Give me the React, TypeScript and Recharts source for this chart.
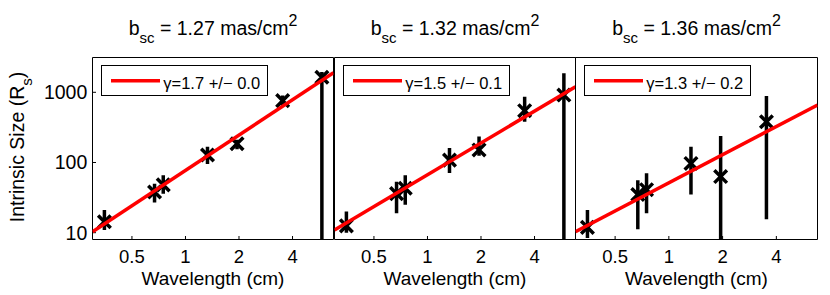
import React from 'react';
import { ComposedChart, Line, Scatter, XAxis, YAxis, Legend } from 'recharts';

const FONT = '"Liberation Sans", Arial, Helvetica, sans-serif';

const xTicks = [0.5, 1, 2, 4];
const yTicks = [10, 100, 1000];
const xDomain: [number, number] = [0.3, 6.8];
const yDomain: [number, number] = [8, 3130];

const wavelengths = [0.35, 0.67, 0.75, 1.33, 1.95, 3.52, 5.85];

const bscValues = ['1.27', '1.32', '1.36'];
const gammaLabels = ['γ=1.7 +/− 0.0', 'γ=1.5 +/− 0.1', 'γ=1.3 +/− 0.2'];

const size1 = [14.3, 38, 48, 128, 185, 760, 1640];
const low1 = [10.9, 27, 36, 95, 155, 640, 1];
const high1 = [21, 50, 66, 168, 210, 900, 1950];

const size2 = [12.5, 36, 43, 108, 151, 547, 913];
const low2 = [10, 19, 25, 71, 125, 381, 1];
const high2 = [20, 53, 66, 161, 235, 865, 1860];

const size3 = [11.9, 35, 41, 97, 63, 381];
const low3 = [8.4, 11.2, 19, 35, 1, 15.5];
const high3 = [21, 56, 70, 168, 238, 885];

const fitX = [0.3, 6.8];
const fit1 = [10.3, 1900];
const fit2 = [10.9, 1200];
const fit3 = [10.3, 660];

const XMark = (props: any) => {
  const { cx, cy } = props;
  if (cx == null || cy == null || isNaN(cx) || isNaN(cy)) return null;
  const r = 6.3;
  return (
    <path
      d={`M${cx - r},${cy - r}L${cx + r},${cy + r}M${cx - r},${cy + r}L${cx + r},${cy - r}`}
      stroke="#000"
      strokeWidth={3.5}
      fill="none"
    />
  );
};

const W = 830;
const H = 295;
const T = 57.5;
const B = 239.5;

interface PanelProps {
  L: number;
  R: number;
  bsc: string;
  gamma: string;
  sizes: number[];
  lows: number[];
  highs: number[];
  fit: number[];
  showY: boolean;
}

function Panel({ L, R, bsc, gamma, sizes, lows, highs, fit, showY }: PanelProps) {
  const points = sizes.map((s, i) => ({ x: wavelengths[i], y: s }));
  const bars = sizes.map((_, i) => [
    { x: wavelengths[i], y: lows[i] },
    { x: wavelengths[i], y: highs[i] },
  ]);
  const fitData = fitX.map((x, i) => ({ x, y: fit[i] }));
  const xTickStyle = { fill: '#000', fontSize: 18.5, fontFamily: FONT };
  const yTickStyle = { fill: '#000', fontSize: 19.5, fontFamily: FONT };
  const legendLeft = Math.round(L + 8.2);

  const titleLabel = (p: any) => {
    const vb = p.viewBox;
    const cx = vb.x + vb.width / 2;
    const y = vb.y + vb.height - 22.8;
    return (
      <text x={cx} y={y} textAnchor="middle" fontFamily={FONT} fontSize={19.5} fill="#000">
        b
        <tspan dy={8.6} fontSize={15}>sc</tspan>
        <tspan dy={-8.6}>{` = ${bsc} mas/cm`}</tspan>
        <tspan dy={-8.4} fontSize={16}>2</tspan>
      </text>
    );
  };

  const xLabel = (p: any) => {
    const vb = p.viewBox;
    return (
      <text x={vb.x + vb.width / 2} y={vb.y + 45} textAnchor="middle" fontFamily={FONT} fontSize={19} fill="#000">
        Wavelength (cm)
      </text>
    );
  };

  const yLabel = (p: any) => {
    const vb = p.viewBox;
    const x = vb.x + vb.width - 68.5;
    const y = vb.y + vb.height / 2 - 1.5;
    return (
      <text x={x} y={y} transform={`rotate(-90 ${x} ${y})`} textAnchor="middle" fontFamily={FONT} fontSize={19.5} fill="#000">
        Intrinsic Size (R
        <tspan dy={7.5} fontSize={15}>s</tspan>
        <tspan dy={-7.5}>)</tspan>
      </text>
    );
  };

  const legendContent = () => (
    <svg width={168} height={32} style={{ display: 'block' }}>
      <rect x={0.5} y={0.5} width={166} height={30} fill="#fff" stroke="#000" strokeWidth={1} />
      <line x1={10} y1={15.7} x2={59} y2={15.7} stroke="#ff0000" strokeWidth={3.5} />
      <text x={62.3} y={24.3} fontFamily={FONT} fontSize={16.5} fill="#000">
        {gamma}
      </text>
    </svg>
  );

  return (
    <div style={{ position: 'absolute', left: 0, top: 0 }}>
      <ComposedChart
        width={W}
        height={H}
        margin={{ top: T - 1, bottom: H - B - 1, left: L - 1, right: W - R - 1 }}
      >
        <XAxis
          dataKey="x"
          type="number"
          scale="log"
          domain={xDomain}
          allowDataOverflow
          ticks={xTicks}
          interval={0}
          height={1}
          stroke="#000"
          tickSize={-3.5}
          tickMargin={13.8}
          tick={xTickStyle}
          label={xLabel}
        />
        <XAxis
          xAxisId="top"
          orientation="top"
          type="number"
          scale="log"
          domain={xDomain}
          allowDataOverflow
          ticks={xTicks}
          interval={0}
          height={1}
          stroke="#000"
          tickSize={-3.5}
          tick={false}
          label={titleLabel}
        />
        <YAxis
          type="number"
          scale="log"
          domain={yDomain}
          allowDataOverflow
          ticks={yTicks}
          interval={0}
          width={1}
          stroke="#000"
          tickSize={-3.5}
          tickMargin={8.7}
          tick={showY ? yTickStyle : false}
          label={showY ? yLabel : undefined}
        />
        <YAxis
          yAxisId="right"
          orientation="right"
          type="number"
          scale="log"
          domain={yDomain}
          allowDataOverflow
          ticks={yTicks}
          interval={0}
          width={1}
          stroke="#000"
          tickSize={-3.5}
          tick={false}
        />
        {bars.map((d, i) => (
          <Line
            key={`bar-${i}`}
            data={d}
            dataKey="y"
            stroke="#000"
            strokeWidth={3.5}
            dot={false}
            activeDot={false}
            isAnimationActive={false}
            legendType="none"
          />
        ))}
        <Scatter data={points} dataKey="y" shape={XMark} isAnimationActive={false} legendType="none" />
        <Line
          data={fitData}
          dataKey="y"
          stroke="#ff0000"
          strokeWidth={3.5}
          dot={false}
          activeDot={false}
          isAnimationActive={false}
          {...({ zIndex: 700 } as any)}
        />
        <Legend
          layout="horizontal"
          verticalAlign="middle"
          align="center"
          content={legendContent}
          wrapperStyle={{ left: legendLeft, top: 65, width: 168, height: 32 }}
        />
      </ComposedChart>
    </div>
  );
}

export default function App() {
  return (
    <div style={{ position: 'relative', width: W, height: H, background: '#fff', overflow: 'hidden' }}>
      <style>{'body{margin:0;}'}</style>
      <Panel L={92.5} R={333.5} bsc={bscValues[0]} gamma={gammaLabels[0]} sizes={size1} lows={low1} highs={high1} fit={fit1} showY />
      <Panel L={334.5} R={575.5} bsc={bscValues[1]} gamma={gammaLabels[1]} sizes={size2} lows={low2} highs={high2} fit={fit2} showY={false} />
      <Panel L={575.5} R={817.5} bsc={bscValues[2]} gamma={gammaLabels[2]} sizes={size3} lows={low3} highs={high3} fit={fit3} showY={false} />
    </div>
  );
}
